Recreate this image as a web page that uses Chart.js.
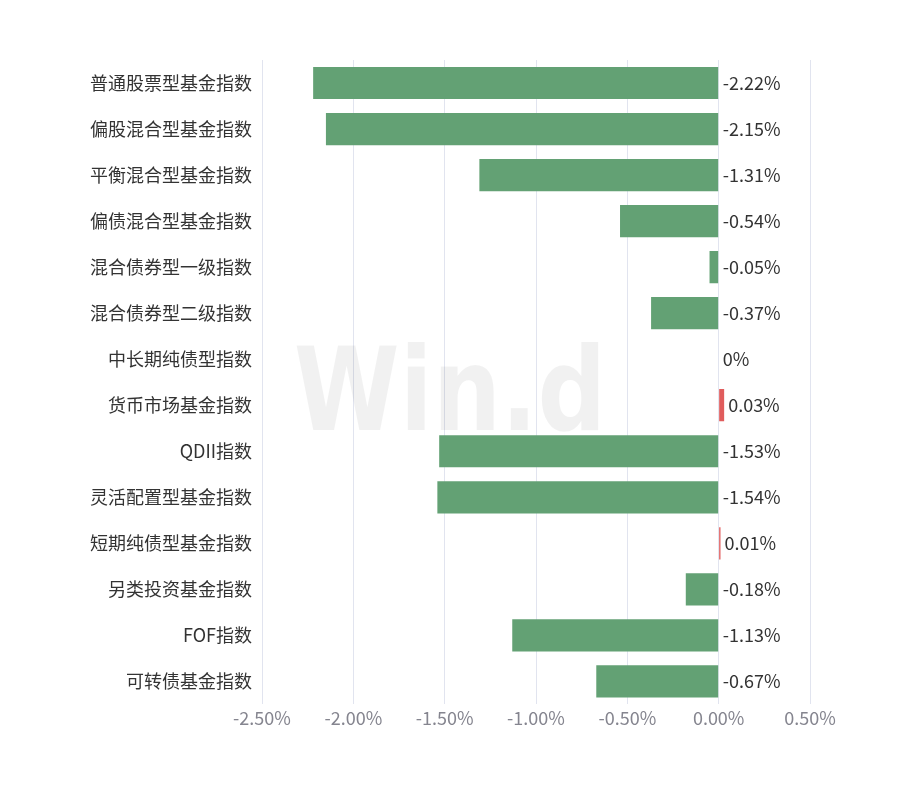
<!DOCTYPE html>
<html>
<head>
<meta charset="utf-8">
<script src="https://cdn.jsdelivr.net/npm/chart.js@4/dist/chart.umd.min.js"></script>
<style>
  html, body { margin: 0; padding: 0; background: #fff; }
  #wrap { width: 900px; height: 800px; }
</style>
</head>
<body>
<div id="wrap"><canvas id="chart" width="900" height="800"></canvas></div>
<script>
const categories = [
  '普通股票型基金指数',
  '偏股混合型基金指数',
  '平衡混合型基金指数',
  '偏债混合型基金指数',
  '混合债券型一级指数',
  '混合债券型二级指数',
  '中长期纯债型指数',
  '货币市场基金指数',
  'QDII指数',
  '灵活配置型基金指数',
  '短期纯债型基金指数',
  '另类投资基金指数',
  'FOF指数',
  '可转债基金指数'
]
const values = [-2.22, -2.15, -1.31, -0.54, -0.05, -0.37, 0, 0.03, -1.53, -1.54, 0.01, -0.18, -1.13, -0.67]
const xTicks = [-2.5, -2.0, -1.5, -1.0, -0.5, 0, 0.5]

const font = '"Noto Sans CJK SC", "Noto Sans", sans-serif'

const barLabels = {
  id: 'barLabels',
  afterDatasetsDraw (chart) {
    const ctx = chart.ctx
    const meta = chart.getDatasetMeta(0)
    const zeroX = chart.scales.x.getPixelForValue(0)
    ctx.save()
    ctx.font = '18px ' + font
    ctx.fillStyle = '#333'
    ctx.textBaseline = 'middle'
    ctx.textAlign = 'left'
    meta.data.forEach((bar, i) => {
      const v = values[i]
      const txt = v === 0 ? '0%' : v.toFixed(2) + '%'
      ctx.fillText(txt, Math.max(bar.x, zeroX) + 4, bar.y)
    })
    ctx.restore()
  }
}

// faint logo over the plot
const watermark = {
  id: 'watermark',
  afterDraw (chart) {
    const ctx = chart.ctx
    ctx.save()
    ctx.font = 'bold 96px "DejaVu Sans", sans-serif'
    ctx.fillStyle = 'rgba(0, 0, 0, 0.055)'
    ctx.textAlign = 'center'
    ctx.textBaseline = 'middle'
    ctx.translate(450, 400)
    ctx.scale(1, 1.2)
    ctx.fillText('Win.d', 0, 0)
    ctx.restore()
  }
}

// eslint-disable-next-line no-new
new Chart(document.getElementById('chart'), {
  type: 'bar',
  data: {
    labels: categories,
    datasets: [{
      data: values,
      backgroundColor: values.map(v => v >= 0 ? '#e05c5c' : '#63a174'),
      barPercentage: 0.7,
      categoryPercentage: 1
    }]
  },
  options: {
    indexAxis: 'y',
    responsive: false,
    animation: false,
    layout: { padding: { top: 60, right: 90, bottom: 68, left: 0 } },
    plugins: {
      legend: { display: false },
      tooltip: { enabled: false }
    },
    scales: {
      x: {
        min: -2.5,
        max: 0.5,
        afterBuildTicks (scale) {
          scale.ticks = xTicks.map(v => ({ value: v }))
        },
        grid: { color: '#e1e4ef', drawTicks: false },
        border: { display: false },
        ticks: {
          color: '#85858f',
          font: { size: 18, family: font },
          padding: 3,
          callback: v => v.toFixed(2) + '%'
        }
      },
      y: {
        grid: { display: false },
        border: { display: false },
        afterFit (scale) { scale.width = 262 },
        ticks: {
          color: '#333',
          font: { size: 18, family: font },
          padding: 2
        }
      }
    }
  },
  plugins: [barLabels, watermark]
})
</script>
</body>
</html>
